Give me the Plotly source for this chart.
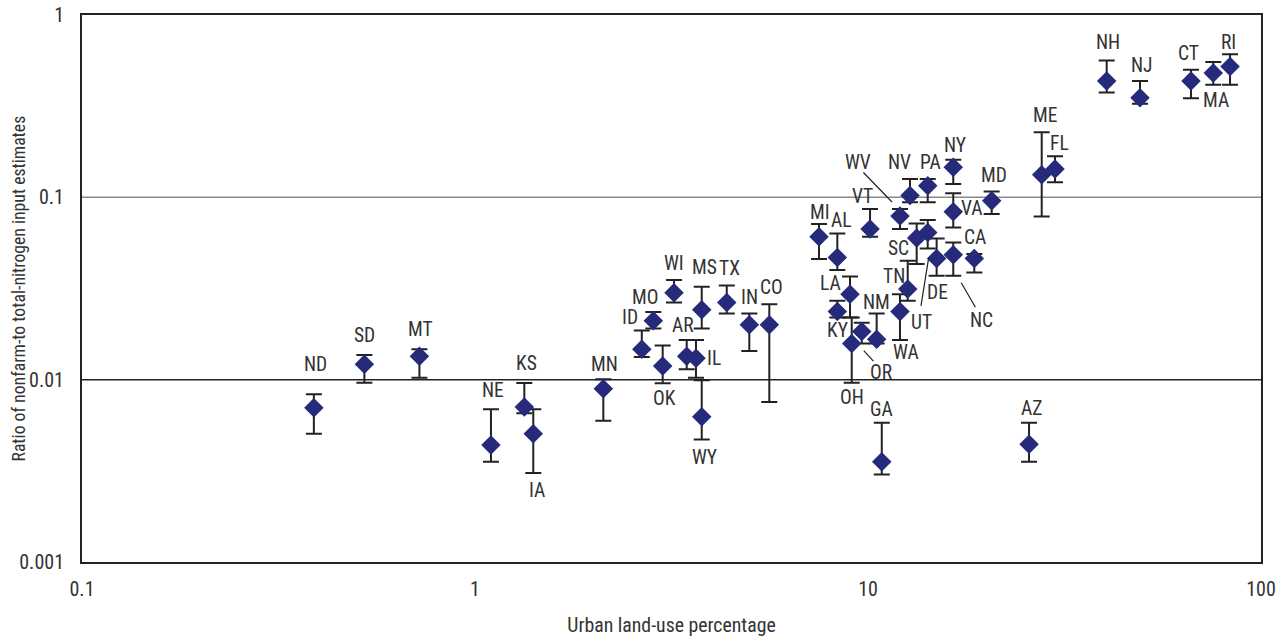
import numpy as np
import plotly.graph_objects as go

states = ["ND", "SD", "MT", "NE", "KS", "IA", "MN", "ID", "MO", "WI", "OK", "AR", "IL", "MS", "WY",
          "TX", "IN", "CO", "MI", "AL", "VT", "WV", "NV", "PA", "UT", "SC", "TN", "WA", "NM", "OR",
          "KY", "LA", "OH", "DE", "NC", "CA", "VA", "NY", "MD", "GA", "AZ", "ME", "FL", "NH", "NJ",
          "CT", "MA", "RI"]
urban = [0.389, 0.523, 0.722, 1.098, 1.335, 1.407, 2.121, 2.657, 2.843, 3.209, 3.003, 3.457, 3.650, 3.775, 3.775,
         4.371, 4.989, 5.609, 7.505, 8.355, 10.12, 12.06, 12.79, 14.19, 14.19, 13.30, 12.62, 12.06, 10.52, 9.64,
         8.355, 8.999, 9.09, 14.95, 16.48, 18.64, 16.48, 16.48, 20.64, 10.84, 25.69, 27.67, 29.91, 40.49, 49.22,
         66.36, 75.61, 83.41]
ratio = [0.00702, 0.01215, 0.01344, 0.00438, 0.00708, 0.00505, 0.00892, 0.01469, 0.02102, 0.02995, 0.01189, 0.01344, 0.0131, 0.02415, 0.00626,
         0.02648, 0.01998, 0.01998, 0.0608, 0.04681, 0.06706, 0.0790, 0.1022, 0.1159, 0.06422, 0.05982, 0.03139, 0.02364, 0.01667, 0.01836,
         0.02364, 0.02945, 0.01577, 0.04622, 0.04843, 0.04622, 0.08346, 0.1462, 0.0959, 0.003544, 0.004418, 0.1332, 0.1432, 0.4339, 0.3517,
         0.4339, 0.4801, 0.5225]
upper = [0.00831, 0.01367, 0.01469, 0.00688, 0.00959, 0.00688, 0.01005, 0.0186, 0.02347, 0.03517, 0.01538, 0.01652, 0.01652, 0.0323, 0.00992,
         0.03284, 0.02305, 0.02595, 0.07143, 0.0634, 0.08635, 0.08635, 0.1262, 0.1262, 0.07511, 0.07197, 0.04491, 0.02945, 0.02305, 0.0205,
         0.02706, 0.03681, 0.02191, 0.05952, 0.05656, 0.04887, 0.1052, 0.1605, 0.1075, 0.0058, 0.0058, 0.2276, 0.1680, 0.5637, 0.4339,
         0.5012, 0.5518, 0.6083]
lower = [0.00505, 0.00963, 0.01026, 0.003544, 0.00654, 0.00308, 0.00595, 0.01332, 0.01906, 0.02648, 0.00955, 0.0114, 0.01026, 0.01906, 0.0047,
         0.02305, 0.01438, 0.00754, 0.04587, 0.03991, 0.0608, 0.06706, 0.0939, 0.0939, 0.05246, 0.04306, 0.02706, 0.01652, 0.01577, 0.01577,
         0.02191, 0.02191, 0.00963, 0.03714, 0.03714, 0.03871, 0.06842, 0.1185, 0.0811, 0.00302, 0.003544, 0.0786, 0.1209, 0.3760, 0.3260,
         0.3499, 0.4147, 0.4147]

x_ticks = [0.1, 1, 10, 100]
x_ticklabels = ["0.1", "1", "10", "100"]
y_ticks = [0.001, 0.01, 0.1, 1]
y_ticklabels = ["0.001", "0.01", "0.1", "1"]
x_title = "Urban land-use percentage"
y_title = "Ratio of nonfarm-to total-nitrogen input estimates"

# label placement: screen-pixel offsets (dx right, dy down) from the point centre
label_offsets = {
    "ND": (2, -43), "SD": (0, -29), "MT": (1, -27), "NE": (2, -55), "KS": (2, -44), "IA": (4, 57),
    "MN": (1, -24), "ID": (-12, -32), "MO": (-8, -23), "WI": (0, -29), "OK": (2, 33), "AR": (-4, -31),
    "IL": (18, 0), "MS": (3, -42), "WY": (3, 41), "TX": (3, -34), "IN": (0, -27), "CO": (2, -37),
    "MI": (1, -24), "AL": (4, -37), "VT": (-8, -32), "WV": (-42, -54), "NV": (-11, -33), "PA": (3, -23),
    "UT": (-6, 90), "SC": (-18, 10), "TN": (-14, -13), "WA": (6, 41), "NM": (0, -37), "OR": (20, 41),
    "KY": (0, 19), "LA": (-20, -11), "OH": (0, 54), "DE": (1, 34), "NC": (28, 66), "CA": (1, -21),
    "VA": (18, -3), "NY": (2, -22), "MD": (2, -25), "GA": (0, -52), "AZ": (2, -36), "ME": (3, -59),
    "FL": (4, -25), "NH": (1, -39), "NJ": (2, -32), "CT": (-3, -28), "MA": (3, 27), "RI": (-2, -24),
}
# leader lines: head offset (from point) and tail vector, screen pixels
leaders = {
    "WV": ((-8, -14), (-30, -31)),
    "UT": ((1, 25), (-8, 50)),
    "NC": ((8, 28), (15, 26)),
    "OR": ((2, 19), (11, 12)),
}

FONT = "Roboto Condensed, Liberation Sans Narrow, sans-serif"
TXT = "#333333"

u = np.array(upper)
l = np.array(lower)
r = np.array(ratio)

fig = go.Figure()
fig.add_trace(go.Scatter(
    x=urban, y=ratio, mode="markers",
    marker=dict(symbol="diamond", size=15, color="#262a7a", line=dict(width=0)),
    error_y=dict(type="data", symmetric=False, array=u - r, arrayminus=r - l,
                 color="#222222", thickness=2, width=8),
    hovertext=states, showlegend=False,
))

for s, xv, yv in zip(states, urban, ratio):
    dx, dy = label_offsets[s]
    fig.add_annotation(x=np.log10(xv), y=np.log10(yv), text=s, showarrow=False,
                       xshift=dx, yshift=-dy, xanchor="center", yanchor="middle",
                       font=dict(family=FONT, size=19.5, color=TXT))

for s, (head, tail) in leaders.items():
    i = states.index(s)
    fig.add_annotation(x=np.log10(urban[i]), y=np.log10(ratio[i]), text="", showarrow=True,
                       arrowhead=0, arrowwidth=1.2, arrowcolor="#222222",
                       xshift=head[0], yshift=-head[1], ax=tail[0], ay=tail[1],
                       axref="pixel", ayref="pixel", standoff=0)

# y-axis title
fig.add_annotation(xref="paper", yref="paper", x=0, y=0.5, xshift=-64, text=y_title,
                   textangle=-90, showarrow=False, xanchor="center", yanchor="middle",
                   font=dict(family=FONT, size=17.7, color=TXT))

fig.add_hline(y=0.1, line=dict(color="#8a8a8a", width=1.5), layer="below")
fig.add_hline(y=0.01, line=dict(color="#222222", width=1.5), layer="below")

fig.update_layout(
    width=1283, height=637,
    margin=dict(l=82, r=22, t=15, b=75),
    paper_bgcolor="white", plot_bgcolor="white",
    font=dict(family=FONT, size=18, color=TXT),
    xaxis=dict(type="log", range=[-1, 2], tickvals=x_ticks, ticktext=x_ticklabels,
               showgrid=False, zeroline=False, showline=True, mirror=True,
               linecolor="#222222", linewidth=2, ticks="", automargin=False,
               ticklabelstandoff=8,
               title=dict(text=x_title, font=dict(size=19.8), standoff=20),
               tickfont=dict(size=20)),
    yaxis=dict(type="log", range=[-3, 0], tickvals=y_ticks, ticktext=y_ticklabels,
               showgrid=False, zeroline=False, showline=True, mirror=True,
               linecolor="#222222", linewidth=2, ticks="", automargin=False,
               ticklabelstandoff=12,
               tickfont=dict(size=20)),
)

fig.write_html("out.html", config={"displayModeBar": False},
               post_script="document.body.style.margin='0';document.body.style.overflow='hidden';")
